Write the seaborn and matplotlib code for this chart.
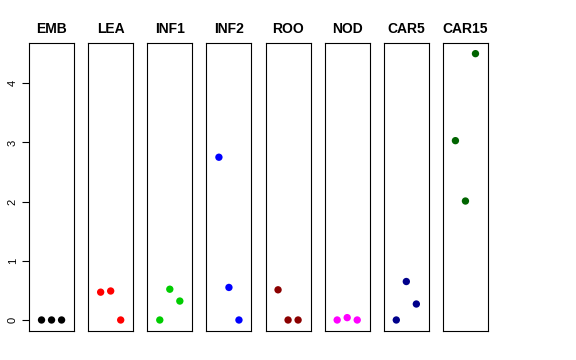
import matplotlib
matplotlib.use("Agg")
import matplotlib.pyplot as plt
import seaborn as sns
import pandas as pd

tissues = ["EMB", "LEA", "INF1", "INF2", "ROO", "NOD", "CAR5", "CAR15"]
colors = ["#000000", "#FF0000", "#00CD00", "#0000FF", "#8B0000", "#FF00FF", "#00008B", "#006400"]
emb = [0.0, 0.0, 0.0]
lea = [0.47, 0.49, 0.0]
inf1 = [0.0, 0.52, 0.32]
inf2 = [2.75, 0.55, 0.0]
roo = [0.51, 0.0, 0.0]
nod = [0.0, 0.04, 0.0]
car5 = [0.0, 0.65, 0.27]
car15 = [3.03, 2.01, 4.5]
reps = [1, 2, 3]

values = [emb, lea, inf1, inf2, roo, nod, car5, car15]

sns.set_style("white")
plt.rcParams["font.family"] = ["Liberation Sans", "DejaVu Sans"]
plt.rcParams["text.color"] = "black"
plt.rcParams["ytick.color"] = "black"
plt.rcParams["ytick.labelcolor"] = "black"

fig, axes = plt.subplots(1, 8, figsize=(5.76, 3.6), dpi=100, sharey=True)
fig.subplots_adjust(left=29/576, right=488/576, bottom=1-331/360, top=1-43/360, wspace=14/45)

for i, ax in enumerate(axes):
    df = pd.DataFrame({"rep": reps, "val": values[i]})
    sns.scatterplot(data=df, x="rep", y="val", color=colors[i], s=28,
                    edgecolor="none", ax=ax, legend=False)
    ax.set_xlim(-0.25, 4.25)
    ax.set_ylim(-0.186, 4.68)
    ax.set_xticks([])
    ax.set_xlabel("")
    ax.set_ylabel("")
    ax.set_title(tissues[i], fontsize=10, fontweight="bold", pad=7, color="black")
    for sp in ax.spines.values():
        sp.set_color("black")
        sp.set_linewidth(0.8)
    if i == 0:
        ax.set_yticks([0, 1, 2, 3, 4])
        ax.tick_params(axis="y", left=True, length=5, width=0.8, labelsize=8, pad=3,
                       colors="black")
        for lab in ax.get_yticklabels():
            lab.set_rotation(90)
            lab.set_va("center")
    else:
        ax.tick_params(axis="y", left=False, labelleft=False)

fig.savefig("out.png", dpi=100)
